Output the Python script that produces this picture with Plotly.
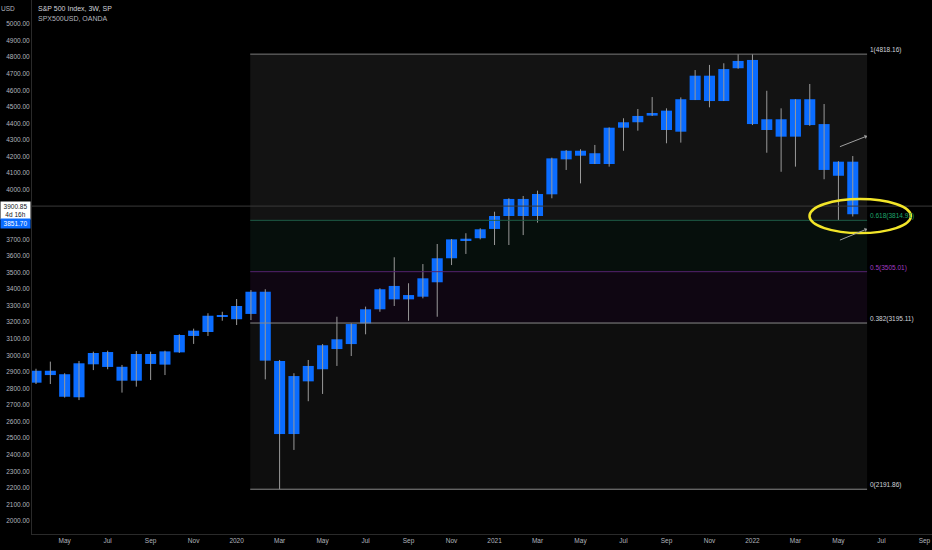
import plotly.graph_objs as go

# 3-week candles, S&P 500 (SPX500USD, OANDA)
candle = list(range(1, 59))
opens = [2835, 2907, 2886, 2747, 2946, 3020, 2931, 2847, 3008, 2944,
         3018, 3117, 3141, 3236, 3218, 3250, 3384, 2966, 2525, 2843,
         2916, 3038, 3068, 3193, 3278, 3419, 3338, 3354, 3441, 3586,
         3692, 3707, 3763, 3841, 3944, 3841, 3972, 4183, 4235, 4220,
         4155, 4374, 4407, 4447, 4477, 4350, 4541, 4688, 4535, 4733,
         4783, 4425, 4320, 4320, 4546, 4396, 4084, 4169]
highs = [2919, 2962, 2892, 2966, 3022, 3028, 2942, 3026, 3022, 3028,
         3127, 3161, 3254, 3263, 3340, 3394, 3399, 2972, 2892, 2972,
         3068, 3233, 3193, 3294, 3405, 3592, 3435, 3551, 3672, 3702,
         3737, 3767, 3867, 3948, 3962, 3994, 4193, 4239, 4244, 4270,
         4376, 4431, 4487, 4559, 4491, 4557, 4722, 4753, 4763, 4818.16,
         4818, 4597, 4491, 4546, 4638, 4517, 4172, 4203]
lows = [2827, 2827, 2745, 2730, 2911, 2916, 2775, 2811, 2851, 2881,
        3015, 3069, 3117, 3209, 3183, 3213, 2855, 2191.86, 2429, 2723,
        2767, 2936, 2996, 3127, 3263, 3298, 3209, 3344, 3233, 3545,
        3612, 3700, 3666, 3666, 3726, 3801, 3948, 4119, 4038, 4155,
        4139, 4235, 4356, 4445, 4280, 4284, 4541, 4497, 4535, 4730,
        4390, 4223, 4108, 4139, 4385, 4063, 3817, 3838]
closes = [2907, 2881, 2750, 2952, 3014, 2930, 2847, 3008, 2948, 3024,
          3123, 3149, 3239, 3242, 3298, 3384, 2968, 2525, 2875, 2936,
          3061, 3097, 3189, 3278, 3399, 3338, 3364, 3465, 3586, 3700,
          3704, 3761, 3841, 3944, 3841, 3974, 4189, 4235, 4205, 4155,
          4374, 4407, 4445, 4463, 4360, 4546, 4688, 4535, 4728, 4777,
          4396, 4360, 4425, 4546, 4390, 4119, 4169, 3851.70]

tick_pos = list(range(3, 64, 3))
tick_text = ['May', 'Jul', 'Sep', 'Nov', '2020', 'Mar', 'May', 'Jul', 'Sep', 'Nov',
             '2021', 'Mar', 'May', 'Jul', 'Sep', 'Nov', '2022', 'Mar', 'May', 'Jul', 'Sep']
# price scale labels (3800 and 3900 sit behind the price boxes)
price_ticks = [p for p in range(2000, 5001, 100) if p not in (3800, 3900)]

fib_levels = ['1', '0.618', '0.5', '0.382', '0']
fib_prices = [4818.16, 3814.91, 3505.01, 3195.11, 2191.86]
fib_line_colors = ['#7b7b7b', '#1f5c48', '#552470', '#8a8a8a', '#8a8a8a']
fib_text_colors = ['#d1d4dc', '#1fa56b', '#a23cc2', '#d1d4dc', '#d1d4dc']
fib_fills = ['#131313', '#060f0c', '#0f0612', '#0e0e0e']

last_price = 3851.70
cross_price = 3900.85

blue = '#0a6cff'
fnt = 'Liberation Sans'

fig = go.Figure()

# wicks
wx, wy = [], []
for i, h, l in zip(candle, highs, lows):
    wx += [i, i, None]
    wy += [l, h, None]
fig.add_trace(go.Scatter(x=wx, y=wy, mode='lines',
                         line=dict(color='#9a9a9a', width=1), hoverinfo='skip'))

# bodies
fig.add_trace(go.Bar(
    x=candle,
    y=[max(abs(c - o), 3) for o, c in zip(opens, closes)],
    base=[min(o, c) for o, c in zip(opens, closes)],
    width=0.77,
    marker=dict(color=blue, line=dict(width=0))
))

shapes = []
fx0, fx1 = 15.95, 59.0
for k in range(len(fib_fills)):
    shapes.append(dict(type='rect', xref='x', yref='y', x0=fx0, x1=fx1,
                       y0=fib_prices[k + 1], y1=fib_prices[k],
                       fillcolor=fib_fills[k], line=dict(width=0), layer='below'))
for p, c in zip(fib_prices, fib_line_colors):
    shapes.append(dict(type='line', xref='x', yref='y', x0=fx0, x1=fx1, y0=p, y1=p,
                       line=dict(color=c, width=1)))

# crosshair
shapes.append(dict(type='line', xref='paper', yref='y', x0=0, x1=1,
                   y0=cross_price, y1=cross_price, line=dict(color='#3a3a3a', width=1)))

# highlight ellipse
shapes.append(dict(type='circle', xref='x', yref='y', x0=54.98, x1=62.06,
                   y0=3738, y1=3944, line=dict(color='#f2e529', width=2.5)))

annotations = []
for lv, p, c in zip(fib_levels, fib_prices, fib_text_colors):
    annotations.append(dict(x=fx1, y=p, xref='x', yref='y', xanchor='left',
                            yanchor='middle', xshift=1, yshift=4, showarrow=False,
                            text='%s(%.2f)' % (lv, p),
                            font=dict(family=fnt, size=6.5, color=c)))

# arrows
for (x0, y0, x1, y1) in [(57.0, 4256, 59.0, 4324), (57.0, 3692, 59.0, 3763)]:
    annotations.append(dict(x=x1, y=y1, ax=x0, ay=y0, xref='x', yref='y',
                            axref='x', ayref='y', showarrow=True, arrowhead=1,
                            arrowsize=0.8, arrowwidth=1, arrowcolor='#a0a0a0', text=''))

annotations += [
    dict(x=0, y=1, xref='paper', yref='paper', xanchor='left', yanchor='top',
         xshift=4, yshift=-3, showarrow=False, text='S&P 500 Index, 3W, SP',
         font=dict(family=fnt, size=7, color='#d1d4dc')),
    dict(x=0, y=1, xref='paper', yref='paper', xanchor='left', yanchor='top',
         xshift=4, yshift=-13, showarrow=False, text='SPX500USD, OANDA',
         font=dict(family=fnt, size=7, color='#b2b5be')),
    dict(x=0, y=1, xref='paper', yref='paper', xanchor='right', yanchor='top',
         xshift=-15, yshift=-3, showarrow=False, text='USD',
         font=dict(family=fnt, size=6.5, color='#b2b5be')),
    dict(x=0, y=cross_price, xref='paper', yref='y', xanchor='right', yanchor='middle',
         xshift=-1, yshift=-4, showarrow=False, text='3900.85<br>4d 16h',
         bgcolor='#ffffff', width=27, borderpad=1,
         font=dict(family=fnt, size=6.5, color='#131722')),
    dict(x=0, y=last_price, xref='paper', yref='y', xanchor='right', yanchor='middle',
         xshift=-1, yshift=-9, showarrow=False, text='%.2f' % last_price,
         bgcolor=blue, width=27, borderpad=1,
         font=dict(family=fnt, size=6.5, color='#ffffff')),
]

fig.update_layout(
    width=932, height=550,
    margin=dict(l=32, r=0, t=0, b=16),
    paper_bgcolor='#000000', plot_bgcolor='#000000',
    showlegend=False, barmode='overlay', hovermode=False,
    shapes=shapes, annotations=annotations,
    xaxis=dict(range=[0.72, 63.53], tickvals=tick_pos, ticktext=tick_text,
               showgrid=False, zeroline=False, showline=True, linecolor='#2a2a2a',
               ticks='', tickfont=dict(family=fnt, size=6.5, color='#b2b5be')),
    yaxis=dict(range=[1921.6, 5144.9], side='left', tickvals=price_ticks,
               tickformat='.2f', showgrid=False, zeroline=False, showline=True,
               linecolor='#2a2a2a', ticks='',
               tickfont=dict(family=fnt, size=6.5, color='#b2b5be')),
)

fig.write_html("out.html", config={'displayModeBar': False},
               post_script="document.body.style.margin='0';document.body.style.background='#000';")
